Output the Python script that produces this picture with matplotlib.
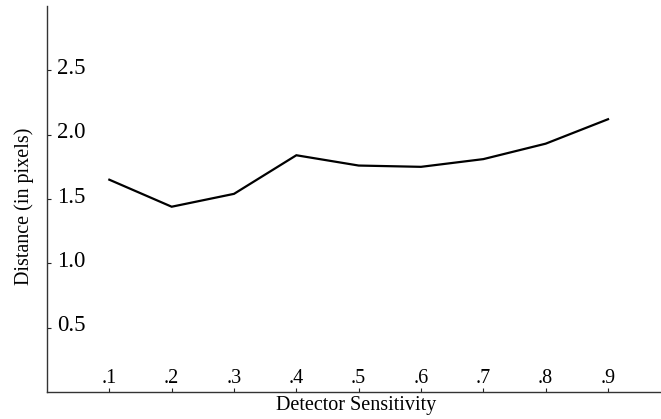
import matplotlib.pyplot as plt
from matplotlib.transforms import ScaledTranslation

sensitivity = [0.1, 0.2, 0.3, 0.4, 0.5, 0.6, 0.7, 0.8, 0.9]
distance = [1.65, 1.44, 1.54, 1.84, 1.76, 1.75, 1.81, 1.93, 2.12]
x_ticklabels = [".1", ".2", ".3", ".4", ".5", ".6", ".7", ".8", ".9"]
y_ticks = [0.5, 1.0, 1.5, 2.0, 2.5]
y_ticklabels = ["0.5", "1.0", "1.5", "2.0", "2.5"]

plt.rcParams['font.family'] = ['Liberation Serif', 'DejaVu Serif']

fig = plt.figure(figsize=(6.61, 4.19), dpi=100)
ax = fig.add_axes([47 / 661, 27 / 419, 614 / 661, 386 / 419])

ax.plot(sensitivity, distance, color='black', linewidth=1.6, solid_joinstyle='miter')

ax.set_xlim(0, 0.985)
ax.set_ylim(0, 3.0)

for side in ['top', 'right']:
    ax.spines[side].set_visible(False)
for side in ['left', 'bottom']:
    ax.spines[side].set_linewidth(1.0)
    ax.spines[side].set_color('#333333')

ax.set_xticks(sensitivity)
ax.set_xticklabels(x_ticklabels, fontsize=14.5, va='baseline')
ax.set_yticks(y_ticks)
ax.set_yticklabels(y_ticklabels, fontsize=16.5, ha='left')

ax.tick_params(axis='x', direction='in', length=3, width=0.8, color='#222222', pad=-6.5)
ax.tick_params(axis='y', direction='in', length=3, width=0.8, color='#222222', pad=-7.5)

# y labels sit a little above their ticks in the original
shift = ScaledTranslation(0, 4.5 / 100, fig.dpi_scale_trans)
for lab in ax.get_yticklabels():
    lab.set_transform(lab.get_transform() + shift)

ax.set_xlabel("Detector Sensitivity", fontsize=14.5)
ax.xaxis.set_label_coords(0.503, -0.011)
ax.set_ylabel("Distance (in pixels)", fontsize=14.5, va='center')
ax.yaxis.set_label_coords(-0.0375, 0.48)

fig.savefig("out.png", dpi=100)
